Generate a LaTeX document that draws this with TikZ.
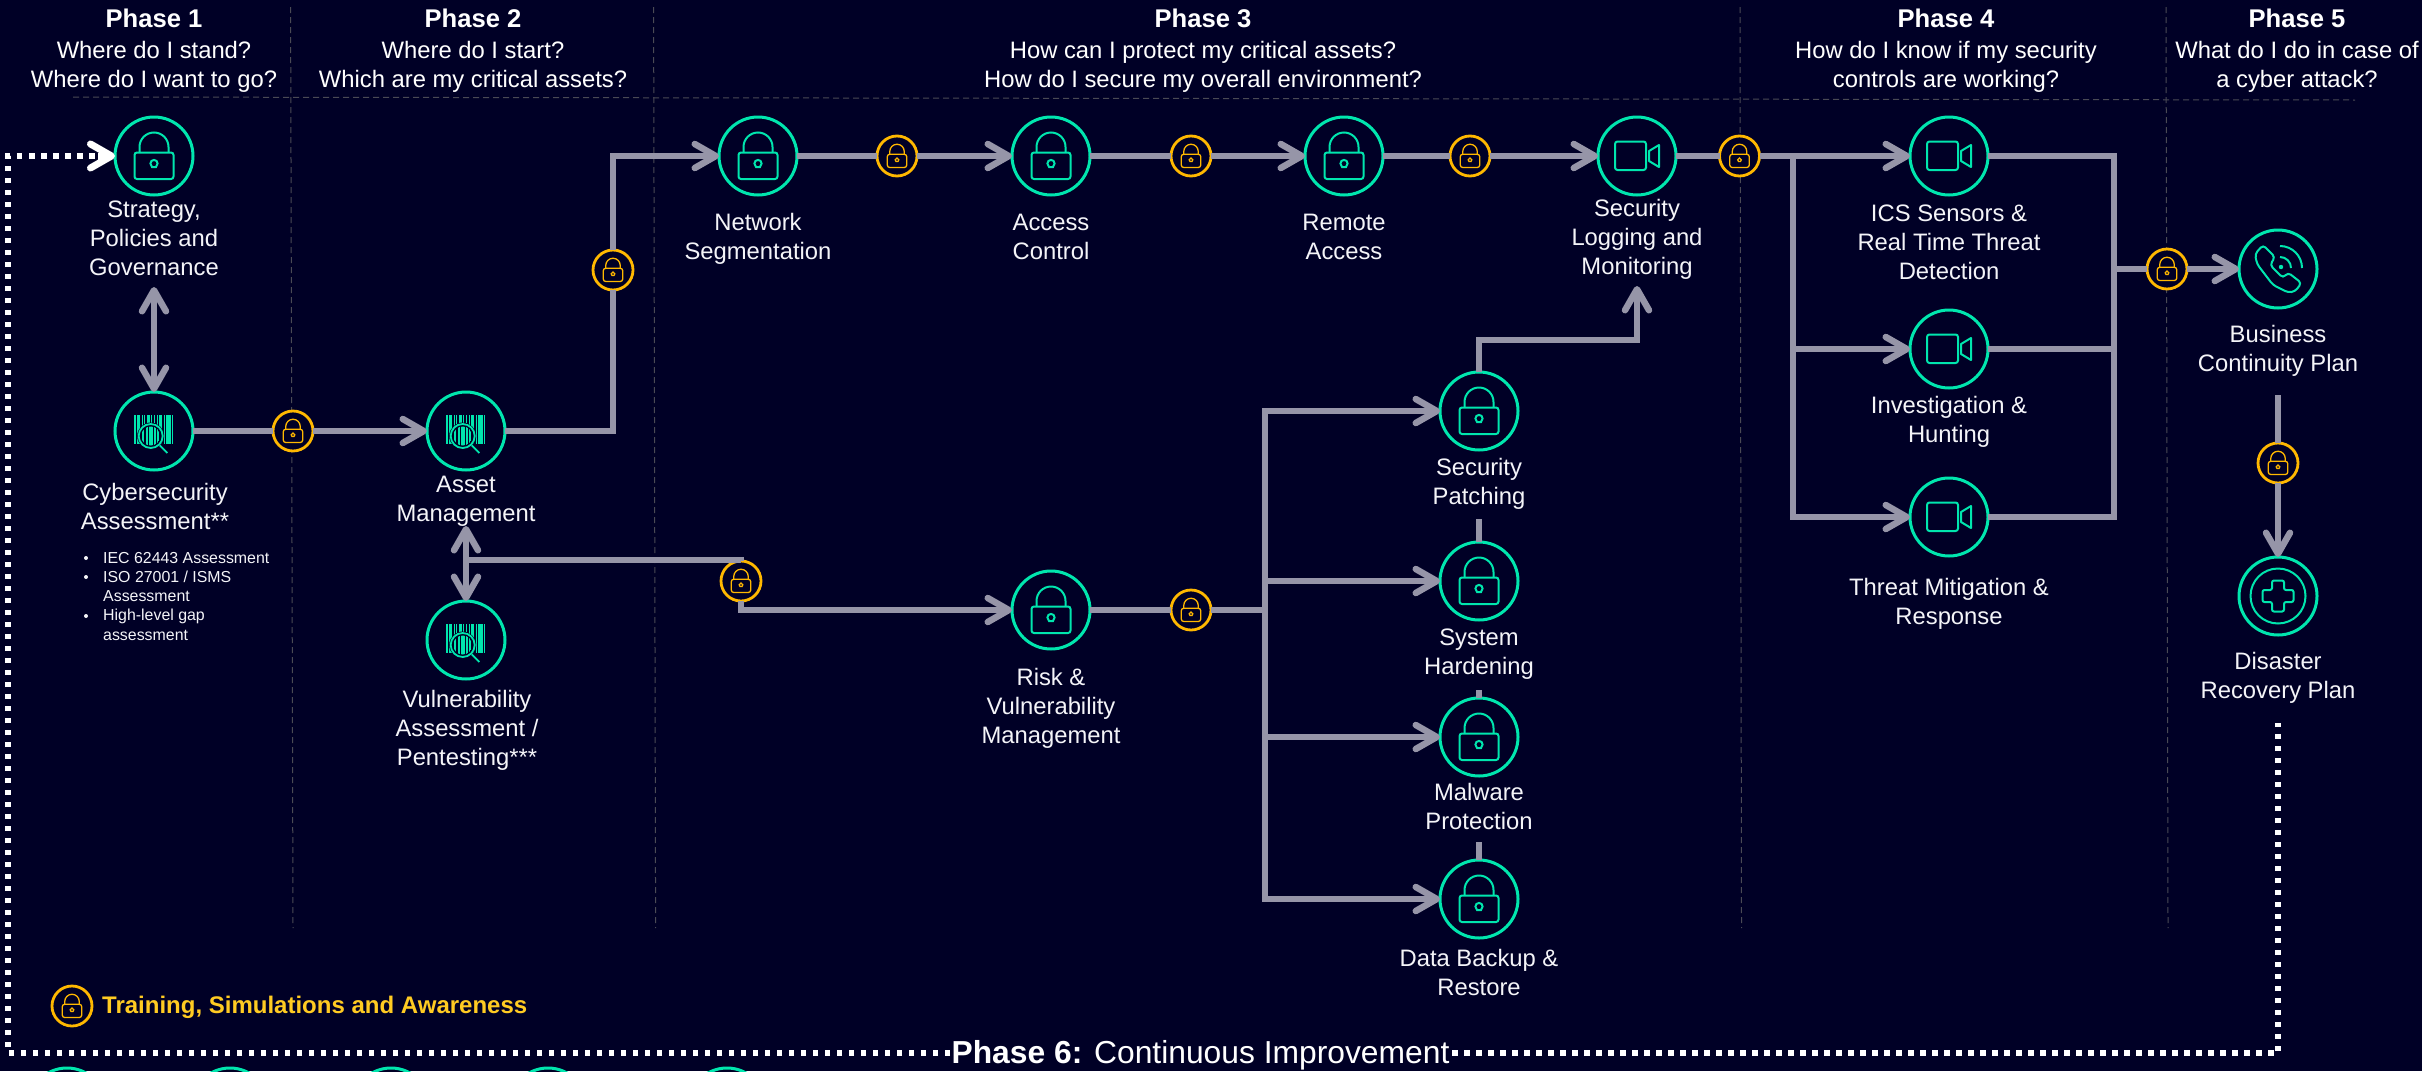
\documentclass[tikz,border=0pt]{standalone}
\usepackage{fontspec}
\setmainfont{Liberation Sans}
\usetikzlibrary{arrows.meta,calc}
\definecolor{bgc}{HTML}{000026}
\definecolor{mint}{HTML}{00E6AE}
\definecolor{amberc}{HTML}{FFB800}
\definecolor{linec}{HTML}{9695A8}
\definecolor{dashc}{HTML}{4A4A55}
\definecolor{txt}{HTML}{F4F4F8}
\definecolor{legendc}{HTML}{FFCB22}
\tikzset{
  x=1pt,y=-1pt,
  >={Straight Barb[length=21pt,width=24pt,line width=6.5pt,round]},
  iconc/.style={circle,draw=mint,line width=3pt,minimum size=78pt,inner sep=0pt,outer sep=0pt,fill=bgc},
  lkc/.style={circle,draw=amberc,line width=2.8pt,minimum size=40pt,inner sep=0pt,outer sep=0pt,fill=bgc},
  conn/.style={draw=linec,line width=6.5pt,line join=miter},
  dotline/.style={draw=white,line width=6pt,dash pattern=on 5.5pt off 6.5pt},
  phaseln/.style={draw=dashc,line width=1pt,dash pattern=on 6pt off 4pt},
  lab/.style={text=txt,align=center,inner sep=0pt,font=\fontsize{23.8}{29}\selectfont,text height=17pt,text depth=6pt},
  lab2/.style={lab,yshift=-17pt},
  lab3/.style={lab,yshift=-32pt},
  head/.style={lab2,text=white},
  phn/.style={text=white,inner sep=0pt,font=\bfseries\fontsize{25.6}{29}\selectfont},
  bull/.style={text=txt,anchor=west,inner sep=0pt,font=\fontsize{15.9}{19}\selectfont},
  ic/.style={draw=mint,line width=2pt},
  sm/.style={scale=.5,draw=amberc,line width=1.3pt},
  pics/lockic/.style={code={
    \path[draw,rounded corners=2.5pt] (-19.5,-3.5) rectangle (19.5,23);
    \path[draw] (-14.5,-3.5) -- (-14.5,-9) arc[start angle=180,end angle=360,radius=14.5] -- (14.5,-3.5);
    \path[draw] (-2,11) -- (-3.6,7.5) arc[start angle=180,end angle=360,radius=3.6] -- (2,11) -- cycle;
  }},
  pics/videoic/.style={code={
    \draw[ic,rounded corners=2.5pt] (-22,-14.5) rectangle (9,14);
    \draw[ic,line join=round] (12,-5) -- (22,-11) -- (22,11) -- (12,5) -- cycle;
  }},
  pics/barcodeic/.style={code={
    \foreach \a/\b in {-20/-18.5,-17/-14,-12.5/-11.5,-10/-9,-7.5/-4.5,-3/-2,-.5/1,2.5/3.5,5/8,9.5/10.5,12/17,18/19}{
      \fill[mint] (\a,-16) rectangle (\b,13);
    }
    \fill[bgc] (-3.3,5) circle[radius=13.5];
    \begin{scope}
      \clip (-3.3,5) circle[radius=9.5];
      \foreach \a/\b in {-12/-10,-8.5/-6.5,-5/-1,0/1.5,3/5}{
        \fill[mint] (\a,-8) rectangle (\b,18);
      }
    \end{scope}
    \draw[ic,line width=1.8pt] (-3.3,5) circle[radius=12];
    \draw[ic,line width=1.8pt] (5.7,14.3) -- (13.3,22);
  }},
  pics/phoneic/.style={code={
    \draw[ic,rounded corners=3.5pt] (-15,-24) -- (-23,-15) -- (-21,-5) -- (-5,16) -- (10,23.5) -- (17,22.5) -- (23.5,14) -- (10,3.5) -- (5,9) -- (-8,-4) -- (-3,-12) -- cycle;
    \draw[ic] (2,-12) arc[start angle=270,end angle=360,radius=11];
    \draw[ic] (2,-23) arc[start angle=270,end angle=360,radius=22];
    \fill[mint] (3,-2) circle[radius=2.2];
  }},
  pics/plusic/.style={code={
    \draw[ic] (0,0) circle[radius=27.5];
    \draw[ic,rounded corners=2pt] (-6,-15.5) -- (6,-15.5) -- (6,-6) -- (15.5,-6) -- (15.5,6) -- (6,6) -- (6,15.5) -- (-6,15.5) -- (-6,6) -- (-15.5,6) -- (-15.5,-6) -- (-6,-6) -- cycle;
  }},
}
\begin{document}
\begin{tikzpicture}
\useasboundingbox (0,0) rectangle (2422,1071);
\clip (0,0) rectangle (2422,1071);
\fill[bgc] (0,0) rectangle (2422,1071);

% phase separators
\coordinate (hA) at (73,97); \coordinate (hB) at (2355,100);
\coordinate (vA1) at (290.6,7); \coordinate (vA2) at (293,928);
\coordinate (vB1) at (653.6,7); \coordinate (vB2) at (655.6,928);
\coordinate (vC1) at (1740,7); \coordinate (vC2) at (1741.5,928);
\coordinate (vD1) at (2166,7); \coordinate (vD2) at (2168,928);
\draw[phaseln] (hA) -- (hB);
\draw[phaseln] (vA1) -- (vA2);
\draw[phaseln] (vB1) -- (vB2);
\draw[phaseln] (vC1) -- (vC2);
\draw[phaseln] (vD1) -- (vD2);

% headers
\node[phn] (p1) at (154,18) {Phase 1};
\node[phn] (p2) at (473,18) {Phase 2};
\node[phn] (p3) at (1203,18) {Phase 3};
\node[phn] (p4) at (1946,18) {Phase 4};
\node[phn] (p5) at (2297,18) {Phase 5};
\node[head] (q1) at (154,64.5) {Where do I stand?\\Where do I want to go?};
\node[head] (q2) at (473,64.5) {Where do I start?\\Which are my critical assets?};
\node[head] (q3) at (1203,64.5) {How can I protect my critical assets?\\How do I secure my overall environment?};
\node[head] (q4) at (1946,64.5) {How do I know if my security\\controls are working?};
\node[head] (q5) at (2297,64.5) {What do I do in case of\\a cyber attack?};

% icon nodes
\node[iconc] (strat) at (154,156) {};
\node[iconc] (cyber) at (154,431) {};
\node[iconc] (asset) at (466,431) {};
\node[iconc] (vuln) at (466,640) {};
\node[iconc] (netseg) at (758,156) {};
\node[iconc] (access) at (1051,156) {};
\node[iconc] (remote) at (1344,156) {};
\node[iconc] (seclog) at (1637,156) {};
\node[iconc] (risk) at (1051,610) {};
\node[iconc] (patch) at (1479,411) {};
\node[iconc] (harden) at (1479,581) {};
\node[iconc] (malware) at (1479,737) {};
\node[iconc] (backup) at (1479,899) {};
\node[iconc] (ics) at (1949,156) {};
\node[iconc] (invest) at (1949,349) {};
\node[iconc] (threat) at (1949,517) {};
\node[iconc] (bcp) at (2278,269) {};
\node[iconc] (drp) at (2278,596) {};
\node[iconc] (b1) at (67,1107) {};
\node[iconc] (b2) at (230,1107) {};
\node[iconc] (b3) at (391,1107) {};
\node[iconc] (b4) at (548,1107) {};
\node[iconc] (b5) at (727,1107) {};

\foreach \n in {strat,netseg,access,remote,risk,patch,harden,malware,backup}{
  \pic[draw=mint,line width=2pt] at (\n) {lockic};
}
\foreach \n in {cyber,asset,vuln}{ \pic at (\n) {barcodeic}; }
\foreach \n in {seclog,ics,invest,threat}{ \pic at (\n) {videoic}; }
\pic at (bcp) {phoneic};
\pic at (drp) {plusic};

% small locks
\node[lkc] (lk1) at (293,431) {};
\node[lkc] (lk2) at (613,270) {};
\node[lkc] (lk3) at (741,581) {};
\node[lkc] (lk4) at (897,156) {};
\node[lkc] (lk5) at (1191,156) {};
\node[lkc] (lk6) at (1470,156) {};
\node[lkc] (lk7) at (1191,610) {};
\node[lkc] (lk8) at (1739.5,156) {};
\node[lkc] (lk9) at (2167,269) {};
\node[lkc] (lk10) at (2278,463) {};
\node[lkc] (lkL) at (72,1006) {};
\foreach \n in {lk1,lk2,lk3,lk4,lk5,lk6,lk7,lk8,lk9,lk10,lkL}{
  \pic[sm] at (\n) {lockic};
}

% labels
\node[lab3] (tStrat) at (154,238) {Strategy,\\Policies and\\Governance};
\node[lab2] (tCyber) at (155,506.5) {Cybersecurity\\Assessment**};
\node[lab2] (tAsset) at (466,498.5) {Asset\\Management};
\node[lab3] (tVuln) at (467,727.5) {Vulnerability\\Assessment /\\Pentesting***};
\node[lab2] (tNet) at (758,237) {Network\\Segmentation};
\node[lab2] (tAcc) at (1051,237) {Access\\Control};
\node[lab2] (tRem) at (1344,237) {Remote\\Access};
\node[lab3] (tLog) at (1637,237) {Security\\Logging and\\Monitoring};
\node[lab3] (tRisk) at (1051,706) {Risk \&\\Vulnerability\\Management};
\node[lab2] (tPatch) at (1479,481.5) {Security\\Patching};
\node[lab2] (tHard) at (1479,651.5) {System\\Hardening};
\node[lab2] (tMal) at (1479,806.5) {Malware\\Protection};
\node[lab2] (tBack) at (1479,972.5) {Data Backup \&\\Restore};
\node[lab3] (tIcs) at (1949,241.5) {ICS Sensors \&\\Real Time Threat\\Detection};
\node[lab2] (tInv) at (1949,420) {Investigation \&\\Hunting};
\node[lab2] (tThr) at (1949,602) {Threat Mitigation \&\\Response};
\node[lab2] (tBcp) at (2278,348.5) {Business\\Continuity Plan};
\node[lab2] (tDrp) at (2278,676) {Disaster\\Recovery Plan};

% bullets
\node[bull] (u1) at (103,558) {IEC 62443 Assessment};
\node[bull] (u2) at (103,577) {ISO 27001 / ISMS};
\node[bull] (u3) at (103,596) {Assessment};
\node[bull] (u4) at (103,616) {High-level gap};
\node[bull] (u5) at (103,635) {assessment};
\fill[txt] (86,558) circle[radius=2];
\fill[txt] (86,577) circle[radius=2];
\fill[txt] (86,616) circle[radius=2];

% legend and footer
\node[anchor=west,inner sep=0pt,text=legendc,font=\bfseries\fontsize{24}{29}\selectfont] (legend) at (102,1007.5) {Training, Simulations and Awareness};
\node[inner sep=0pt,text=white,font=\fontsize{31.8}{36}\selectfont] (p6) at (1200.5,1055) {\textbf{Phase 6:} Continuous Improvement};

% connectors
\coordinate (stratTip) at (154,287);
\draw[conn,<->] (stratTip) -- (cyber.north);
\draw[conn] (cyber) -- (lk1);
\draw[conn,->] (lk1) -- (asset);
\draw[conn] (asset) -| (lk2);
\draw[conn,->] (lk2) |- (netseg);
\draw[conn] (netseg) -- (lk4);
\draw[conn,->] (lk4) -- (access);
\draw[conn] (access) -- (lk5);
\draw[conn,->] (lk5) -- (remote);
\draw[conn] (remote) -- (lk6);
\draw[conn,->] (lk6) -- (seclog);
\draw[conn] (seclog) -- (lk8);

\coordinate (assetTip) at (466,526);
\coordinate (assetJ) at (466,560);
\coordinate (lk3T) at (741,560);
\draw[conn,<->] (assetTip) -- (vuln.north);
\draw[conn] (assetJ) -- (lk3T) -- (lk3.north);
\draw[conn,->] (lk3) |- (risk);
\draw[conn] (risk) -- (lk7);
\coordinate (busT) at (1265,411);
\coordinate (busB) at (1265,899);
\coordinate (busJ) at (1265,610);
\draw[conn] (lk7) -- (busJ);
\draw[conn,<->] (patch) -- (busT) -- (busB) -- (backup);
\draw[conn,->] (busT |- harden) -- (harden);
\draw[conn,->] (busT |- malware) -- (malware);
\coordinate (logTip) at (1637,286);
\coordinate (patchUp) at (1479,340);
\draw[conn,->] (patch.north) -- (patchUp) -| (logTip);
\coordinate (st1) at (1479,519);
\coordinate (st2) at (1479,690);
\coordinate (st3) at (1479,842);
\draw[conn] (st1) -- (harden.north);
\draw[conn] (st2) -- (malware.north);
\draw[conn] (st3) -- (backup.north);

\coordinate (busL) at (1793,156);
\coordinate (busLB) at (1793,517);
\coordinate (busR) at (2114,156);
\coordinate (busRB) at (2114,517);
\draw[conn,->] (lk8) -- (ics);
\draw[conn,->] (busL) -- (busLB) -- (threat);
\draw[conn,->] (busL |- invest) -- (invest);
\draw[conn] (ics) -- (busR) -- (busRB) -- (threat);
\draw[conn] (invest) -- (busR |- invest);
\draw[conn] (busR |- lk9) -- (lk9);
\draw[conn,->] (lk9) -- (bcp);
\coordinate (bcpOut) at (2278,395);
\draw[conn] (bcpOut) -- (lk10);
\draw[conn,->] (lk10) -- (drp);

% improvement loop
\coordinate (loopBL) at (8,1053);
\coordinate (loopTL) at (8,156);
\coordinate (loopBR) at (2278,1053);
\coordinate (loopTR) at (2278,723);
\coordinate (loopEnd) at (98,156);
\coordinate (loopL) at (950,1053);
\coordinate (loopR) at (1452,1053);
\draw[dotline] (loopL) -- (loopBL) -- (loopTL) -- (loopEnd);
\draw[draw=white,line width=7pt,-{Straight Barb[length=21pt,width=24pt,line width=7pt,round]}] (loopEnd) -- (strat.west);
\draw[dotline] (loopR) -- (loopBR) -- (loopTR);
\end{tikzpicture}
\end{document}
